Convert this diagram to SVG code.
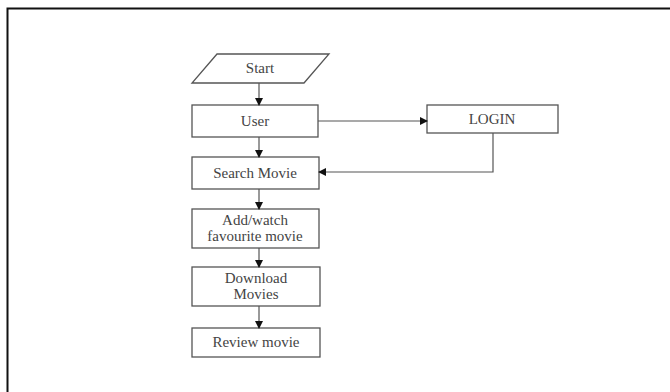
<svg xmlns="http://www.w3.org/2000/svg" width="670" height="392" viewBox="0 0 670 392">
<defs>
<marker id="ah" markerWidth="8" markerHeight="8" refX="7" refY="4" orient="auto" markerUnits="userSpaceOnUse">
<path d="M0,0 L8,4 L0,8 Z" fill="#111"/>
</marker>
<style>
.box{fill:#fff;stroke:#555;stroke-width:1.3}
.t{font-family:"Liberation Serif","Times New Roman",serif;font-size:15px;fill:#444;text-anchor:middle}
.c{fill:none;stroke:#555;stroke-width:1.2}
</style>
</defs>
<rect x="0" y="0" width="670" height="392" fill="#fff"/>
<path d="M7.5,392 V8.5 H670" fill="none" stroke="#111" stroke-width="2"/>
<g id="start">
<polygon class="box" points="217,54 329,54 304,83 192,83"/>
<text class="t" x="260" y="73">Start</text>
</g>
<g id="user">
<rect class="box" x="192" y="105" width="126" height="32"/>
<text class="t" x="255" y="126">User</text>
</g>
<g id="login">
<rect class="box" x="427" y="105" width="131" height="28"/>
<text class="t" x="492" y="124">LOGIN</text>
</g>
<g id="search">
<rect class="box" x="192" y="157" width="127" height="32"/>
<text class="t" x="255" y="178">Search Movie</text>
</g>
<g id="addwatch">
<rect class="box" x="192" y="209" width="127" height="39"/>
<text class="t" x="255" y="225">Add/watch</text>
<text class="t" x="255" y="241">favourite movie</text>
</g>
<g id="download">
<rect class="box" x="192" y="267" width="128" height="39"/>
<text class="t" x="256" y="283">Download</text>
<text class="t" x="256" y="299">Movies</text>
</g>
<g id="review">
<rect class="box" x="192" y="328" width="128" height="29"/>
<text class="t" x="256" y="347">Review movie</text>
</g>
<g id="connectors">
<path class="c" d="M259,83 V105" marker-end="url(#ah)"/>
<path class="c" d="M259,137 V157" marker-end="url(#ah)"/>
<path class="c" d="M259,189 V209" marker-end="url(#ah)"/>
<path class="c" d="M259,248 V267" marker-end="url(#ah)"/>
<path class="c" d="M259,306 V328" marker-end="url(#ah)"/>
<path class="c" d="M318,121 H427" marker-end="url(#ah)"/>
<path class="c" d="M493,133 V172 H319" marker-end="url(#ah)"/>
</g>
</svg>
